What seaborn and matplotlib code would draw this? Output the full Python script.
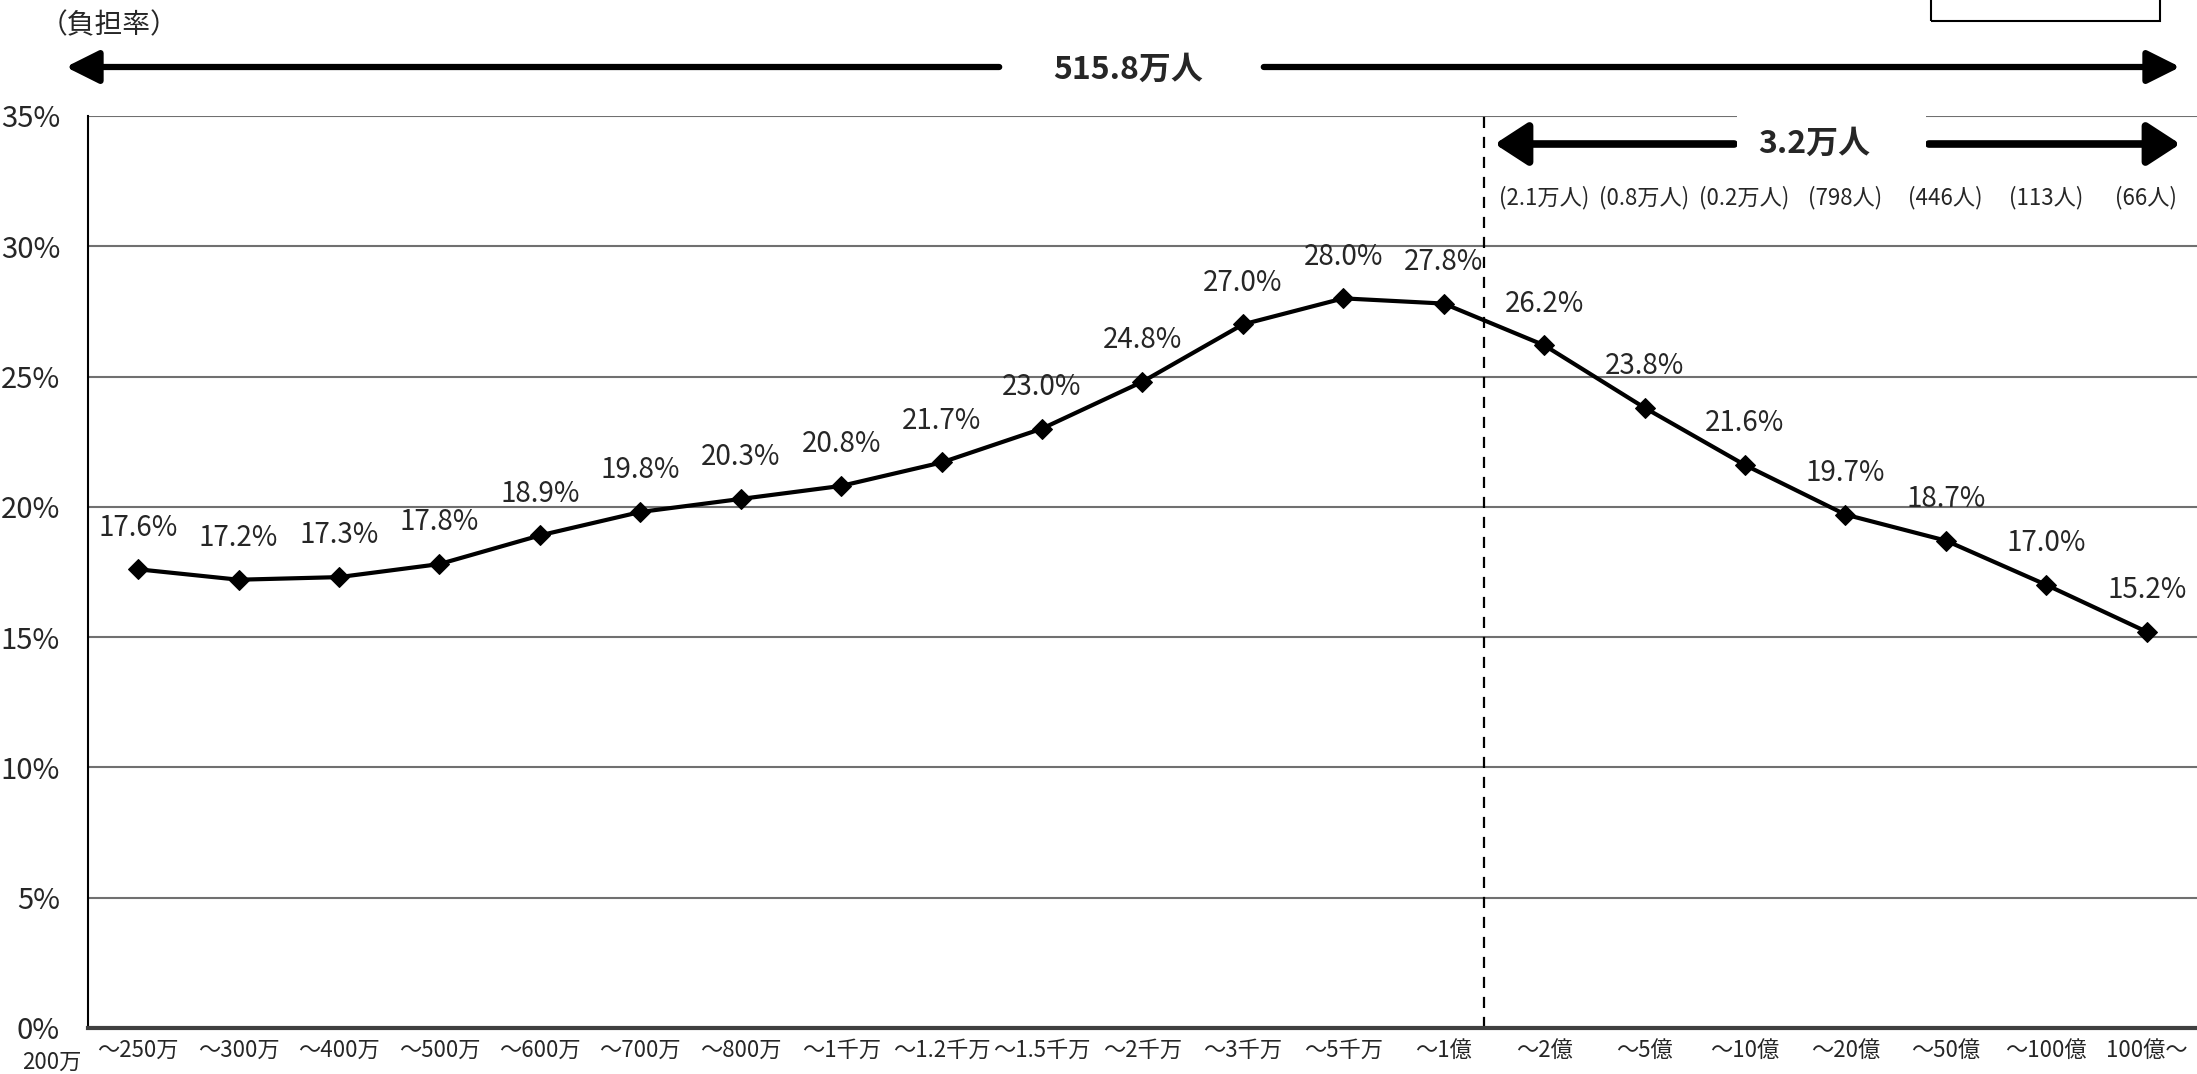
import numpy as np
import pandas as pd
import matplotlib
matplotlib.use("Agg")
import matplotlib.pyplot as plt
import seaborn as sns
from matplotlib.patches import FancyArrowPatch, Rectangle

# ---------- data ----------
income_bins = ["～250万", "～300万", "～400万", "～500万", "～600万", "～700万",
               "～800万", "～1千万", "～1.2千万", "～1.5千万", "～2千万", "～3千万",
               "～5千万", "～1億", "～2億", "～5億", "～10億", "～20億", "～50億",
               "～100億", "100億～"]
burden_rate = [17.6, 17.2, 17.3, 17.8, 18.9, 19.8, 20.3, 20.8, 21.7, 23.0, 24.8,
               27.0, 28.0, 27.8, 26.2, 23.8, 21.6, 19.7, 18.7, 17.0, 15.2]
# people counts shown for the high income bins (～2億 .. 100億～)
high_counts = ["(2.1万人)", "(0.8万人)", "(0.2万人)", "(798人)", "(446人)", "(113人)", "(66人)"]
y_ticks = [0, 5, 10, 15, 20, 25, 30, 35]

sns.set_style("white")
plt.rcParams['font.family'] = ['Noto Sans CJK JP', 'DejaVu Sans']

df = pd.DataFrame({"pos": np.arange(len(income_bins)), "rate": burden_rate})

fig = plt.figure(figsize=(21.97, 10.74), dpi=100)
ax = fig.add_axes([0.040, 0.043, 0.96, 0.849])

sns.lineplot(x="pos", y="rate", data=df, ax=ax, color="black", linewidth=3,
             marker="D", markersize=10, markeredgecolor="black")

ax.set_xlim(-0.5, len(income_bins) - 0.5)
ax.set_ylim(0, 35)
ax.set_xlabel("")
ax.set_ylabel("")

# grid
for v in y_ticks[1:]:
    ax.axhline(v, color="#707070", lw=1.5, zorder=0)
ax.set_yticks(y_ticks)
ax.set_yticklabels([f"{v}%" for v in y_ticks], fontsize=21)
ax.tick_params(axis="y", length=0, pad=20)

# x ticks: marks at boundaries, labels at centers
ax.set_xticks(np.arange(0.5, len(income_bins) - 0.5, 1))
ax.set_xticklabels([])
ax.set_xticks(np.arange(len(income_bins)), minor=True)
ax.set_xticklabels(income_bins, minor=True, fontsize=16)
ax.tick_params(axis="x", which="major", direction="in", length=8, width=1, color="#555555")
ax.tick_params(axis="x", which="minor", length=0, pad=8)

for s in ["top", "right"]:
    ax.spines[s].set_visible(False)
ax.spines["left"].set_color("black")
ax.spines["left"].set_linewidth(1.5)
ax.spines["bottom"].set_color("#404040")
ax.spines["bottom"].set_linewidth(3)

# data labels
for i, v in enumerate(burden_rate):
    ax.annotate(f"{v:.1f}%", (i, v), xytext=(0, 30), textcoords="offset points",
                ha="center", va="center", fontsize=20)

# divider between ～1億 and ～2億
ax.axvline(13.4, color="black", ls=(0, (5, 4)), lw=1.6, zorder=1)


# top annotations (figure pixel coords)
def fx(px):
    return px / 2197


def fy(py):
    return 1 - py / 1074


def arrow(x0, x1, y, lw, hl, hw):
    a = FancyArrowPatch((fx(x0), fy(y)), (fx(x1), fy(y)), transform=fig.transFigure,
                        arrowstyle=f"-|>,head_length={hl},head_width={hw}",
                        mutation_scale=10, lw=lw, color="black")
    fig.add_artist(a)


# counts for top bins, centred on their categories
for i, t in enumerate(high_counts):
    fig.text(fx(88 + (14 + i + 0.5) * 100.4), fy(198), t, ha="center", va="center", fontsize=16)

fig.text(fx(40), fy(25), "（負担率）", ha="left", va="center", fontsize=20)

arrow(1002, 63, 67, 4.5, 2.0, 1.0)
arrow(1261, 2183, 67, 4.5, 2.0, 1.0)
fig.text(fx(1128), fy(70), "515.8万人", ha="center", va="center", fontsize=23, fontweight="bold")

# white gap in top gridline behind 3.2万人
fig.add_artist(Rectangle((fx(1737), fy(160)), fx(1926) - fx(1737), fy(100) - fy(160),
                         transform=fig.transFigure, facecolor="white", edgecolor="none", zorder=3))
arrow(1737, 1492, 144, 5.5, 2.0, 1.3)
arrow(1926, 2183, 144, 5.5, 2.0, 1.3)
fig.text(fx(1814), fy(144), "3.2万人", ha="center", va="center", fontsize=23,
         fontweight="bold", zorder=4)

fig.text(fx(52), fy(1062), "200万", ha="center", va="center", fontsize=16)

# partial box in the top-right corner
fig.add_artist(Rectangle((fx(1931), fy(21)), fx(2160) - fx(1931), fy(-10) - fy(21),
                         transform=fig.transFigure, facecolor="none", edgecolor="black",
                         lw=1.5, clip_on=False))

fig.savefig("out.png", dpi=100)
